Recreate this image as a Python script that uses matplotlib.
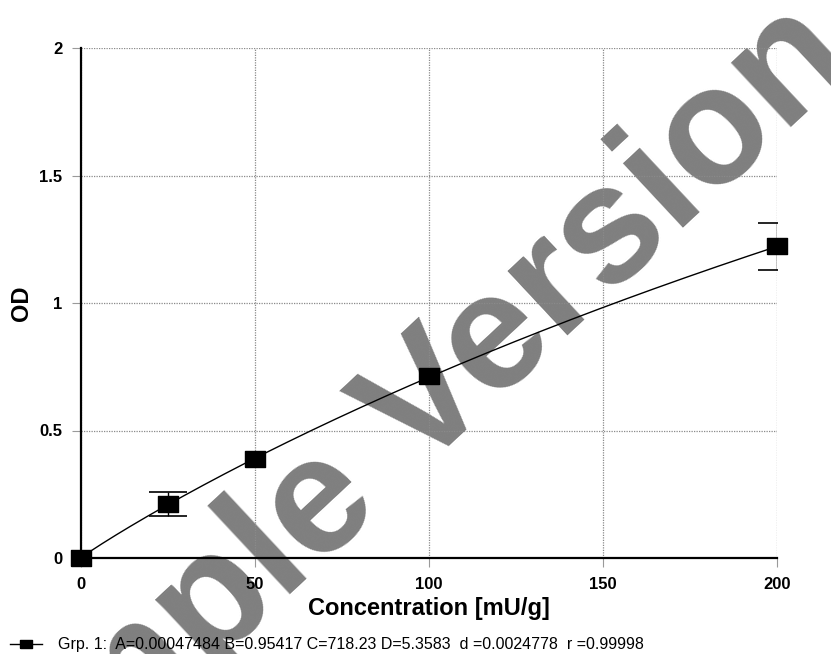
"""Standard curve (4-parameter fit) with watermark, recreated in matplotlib."""
import numpy as np
from matplotlib import pyplot as plt

# measured standards
conc = [0, 25, 50, 100, 200]
od = [0.0, 0.212, 0.387, 0.713, 1.222]
# only the 25 and 200 standards show error bars
err_conc = [25, 200]
err_od = [0.212, 1.222]
err_size = [0.047, 0.093]

# 4PL fit parameters printed under the chart
A = 0.00047484
B = 0.95417
C = 718.23
D = 5.3583
fit_text = "Grp. 1:  A=0.00047484 B=0.95417 C=718.23 D=5.3583  d =0.0024778  r =0.99998"

x_ticks = [0, 50, 100, 150, 200]
y_ticks = [0, 0.5, 1, 1.5, 2]
y_ticklabels = ["0", "0.5", "1", "1.5", "2"]


def four_pl(x):
    return D + (A - D) / (1 + (x / C) ** B)


def main():
    plt.rcParams["font.family"] = ["Liberation Sans", "DejaVu Sans"]
    fig = plt.figure(figsize=(8.31, 6.54), dpi=100)
    ax = fig.add_axes([81 / 831, 96 / 654, 696 / 831, 510 / 654])
    ax.patch.set_visible(False)

    # watermark sits underneath everything
    fig.text(375 / 831, 1 - 457 / 654, "Sample Version", fontsize=120,
             fontweight="bold", color="#7f7f7f", rotation=43,
             ha="center", va="center", rotation_mode="anchor", zorder=-1)

    ax.set_xlim(0, 200)
    ax.set_ylim(0, 2)
    ax.set_xticks(x_ticks)
    ax.set_yticks(y_ticks)
    ax.set_yticklabels(y_ticklabels)
    ax.grid(True, color="#8a8a8a", linestyle=(0, (1, 1)), linewidth=0.9)
    ax.tick_params(axis="both", length=6.5, width=0.8, color="#9a9a9a",
                   labelsize=12, pad=7)
    for lbl in ax.get_xticklabels() + ax.get_yticklabels():
        lbl.set_fontweight("bold")
    for side in ["top", "right"]:
        ax.spines[side].set_visible(False)
    for side in ["left", "bottom"]:
        ax.spines[side].set_linewidth(1.6)
        ax.spines[side].set_zorder(2)

    xs = np.linspace(0, 200, 200)
    ax.plot(xs, four_pl(xs), color="black", linewidth=1.0, zorder=3)

    rect = [(-1, -0.76), (1, -0.76), (1, 0.76), (-1, 0.76), (-1, -0.76)]
    ax.errorbar(err_conc, err_od, yerr=err_size, fmt="none", ecolor="black",
                elinewidth=1.0, capsize=14, capthick=1.2, zorder=4)
    ax.plot(conc, od, linestyle="none", marker=rect, markersize=15,
            color="black", clip_on=False, zorder=5)

    ax.set_ylabel("OD", fontsize=17, fontweight="bold")
    ax.yaxis.set_label_coords(-48 / 696, 0.5)
    ax.set_xlabel("Concentration [mU/g]", fontsize=17, fontweight="bold",
                  labelpad=4)

    # legend line: symbol + fit parameters
    fig.lines.append(plt.Line2D([10 / 831, 42 / 831], [1 - 644 / 654] * 2,
                                color="black", linewidth=1.0,
                                transform=fig.transFigure))
    fig.lines.append(plt.Line2D([26 / 831], [1 - 644 / 654], marker=rect,
                                markersize=8.5, color="black",
                                transform=fig.transFigure))
    fig.text(58 / 831, 1 - 645 / 654, fit_text, fontsize=11.5,
             ha="left", va="center")

    plt.savefig("out.png")


if __name__ == "__main__":
    main()
